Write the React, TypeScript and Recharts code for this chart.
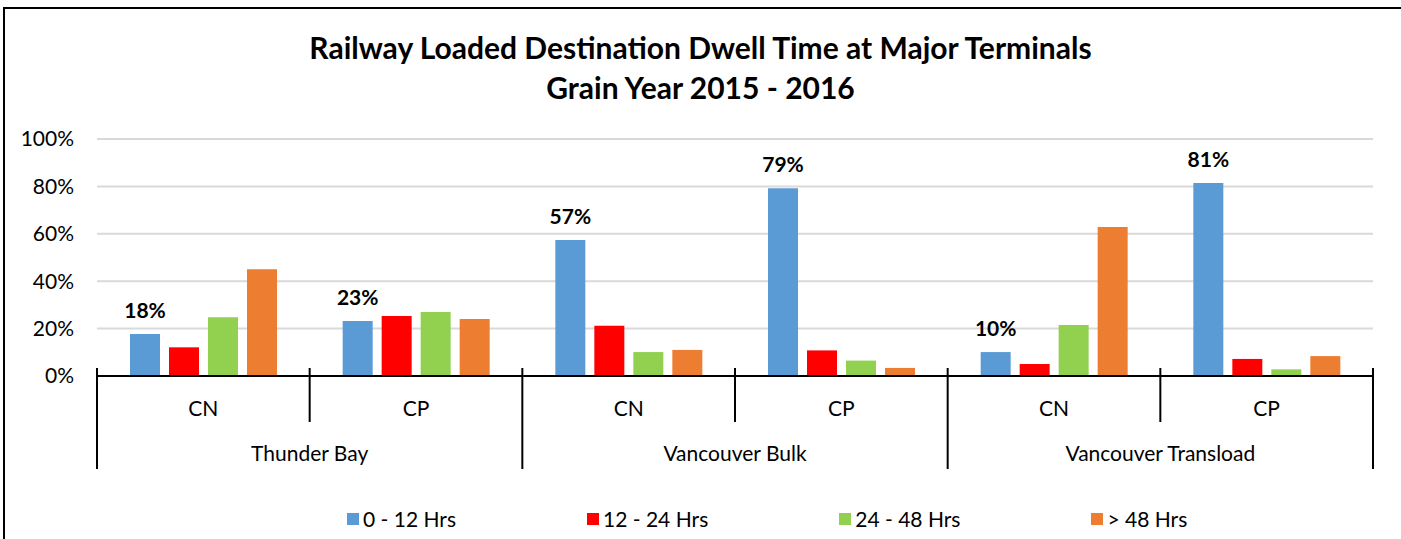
import { BarChart, Bar, XAxis, YAxis, CartesianGrid, Legend, LabelList } from 'recharts';

const operators = ['CN', 'CP', 'CN', 'CP', 'CN', 'CP'];
const terminals = ['Thunder Bay', 'Vancouver Bulk', 'Vancouver Transload'];
const hrs0to12 = [17.7, 23.2, 57.4, 79.2, 10.1, 81.4];
const hrs12to24 = [12.1, 25.3, 21.2, 10.8, 5.1, 7.2];
const hrs24to48 = [24.8, 27.0, 10.1, 6.5, 21.5, 2.8];
const hrsOver48 = [45.0, 24.0, 11.0, 3.4, 62.9, 8.4];
const yTicks = [0, 20, 40, 60, 80, 100];

const data = operators.map((op, i) => ({
  op,
  terminal: terminals[Math.floor(i / 2)],
  a: hrs0to12[i],
  b: hrs12to24[i],
  c: hrs24to48[i],
  d: hrsOver48[i],
}));

const W = 1401;
const H = 539;
const LEFT = 97;
const RIGHT = 28;
const BAND = (W - LEFT - RIGHT) / operators.length;
const FONT = 'Lato, "Noto Sans", sans-serif';
const FS = 21;

function CategoryTick({ x, y, payload, index }: any) {
  const half = BAND / 2;
  const i = index as number;
  return (
    <g>
      {i === 0 && <line x1={x - half} x2={x - half} y1={y - 8} y2={y + 93} stroke="#000" strokeWidth={2} />}
      <line x1={x + half} x2={x + half} y1={y - 8} y2={i % 2 === 1 ? y + 93 : y + 46} stroke="#000" strokeWidth={2} />
      <text x={x} y={y + 40} textAnchor="middle" fontSize={FS} fill="#000" fontFamily={FONT}>{payload.value}</text>
      {i % 2 === 0 && (
        <text x={x + half} y={y + 85} textAnchor="middle" fontSize={FS} fill="#000" fontFamily={FONT}>
          {data[i].terminal}
        </text>
      )}
    </g>
  );
}

function LegendContent({ payload }: any) {
  return (
    <div style={{ display: 'flex', justifyContent: 'flex-start', gap: 131, fontFamily: FONT, fontSize: FS, color: '#000', paddingTop: 17, paddingLeft: 347 }}>
      {(payload || []).map((p: any) => (
        <div key={p.value} style={{ display: 'flex', alignItems: 'center' }}>
          <span style={{ width: 12, height: 12, background: p.color, display: 'inline-block', marginRight: 4 }} />
          <span>{p.value}</span>
        </div>
      ))}
    </div>
  );
}

export default function App() {
  return (
    <div style={{ position: 'absolute', left: 0, top: 0, width: W, height: H, background: '#fff', overflow: 'hidden' }}>
      <div style={{ position: 'absolute', left: 3, top: 7, width: W, height: H, borderTop: '2.5px solid #000', borderLeft: '2.5px solid #000' }} />
      <div style={{ position: 'absolute', left: 0, top: 27, width: W, textAlign: 'center', fontFamily: FONT, fontWeight: 700, fontSize: 30, lineHeight: '40px', color: '#000' }}>
        <div>Railway Loaded Destination Dwell Time at Major Terminals</div>
        <div>Grain Year 2015 - 2016</div>
      </div>
      <BarChart
        width={W}
        height={H}
        data={data}
        margin={{ top: 139, right: RIGHT, bottom: 0, left: 0 }}
        barSize={30}
        barGap={9}
        style={{ position: 'absolute', left: 0, top: 0 }}
      >
        <CartesianGrid vertical={false} stroke="#d9d9d9" strokeWidth={2} />
        <YAxis
          width={LEFT}
          domain={[0, 100]}
          ticks={yTicks}
          tickFormatter={(v: number) => `${v}%`}
          axisLine={false}
          tickLine={false}
          tickSize={0}
          tickMargin={23}
          tick={{ fontSize: FS, fill: '#000', fontFamily: FONT }}
        />
        <XAxis
          dataKey="op"
          height={113}
          interval={0}
          axisLine={{ stroke: '#000', strokeWidth: 2 }}
          tickLine={false}
          tickSize={0}
          tickMargin={0}
          tick={<CategoryTick />}
        />
        <Legend verticalAlign="bottom" height={50} content={<LegendContent />} />
        <Bar dataKey="a" name="0 - 12 Hrs" fill="#5b9bd5" isAnimationActive={false}>
          <LabelList
            dataKey="a"
            position="top"
            offset={16}
            formatter={(v: any) => `${Math.round(Number(v))}%`}
            style={{ fontSize: FS, fontWeight: 700, fill: '#000', fontFamily: FONT }}
          />
        </Bar>
        <Bar dataKey="b" name="12 - 24 Hrs" fill="#ff0000" isAnimationActive={false} />
        <Bar dataKey="c" name="24 - 48 Hrs" fill="#92d050" isAnimationActive={false} />
        <Bar dataKey="d" name="> 48 Hrs" fill="#ed7d31" isAnimationActive={false} />
      </BarChart>
    </div>
  );
}
